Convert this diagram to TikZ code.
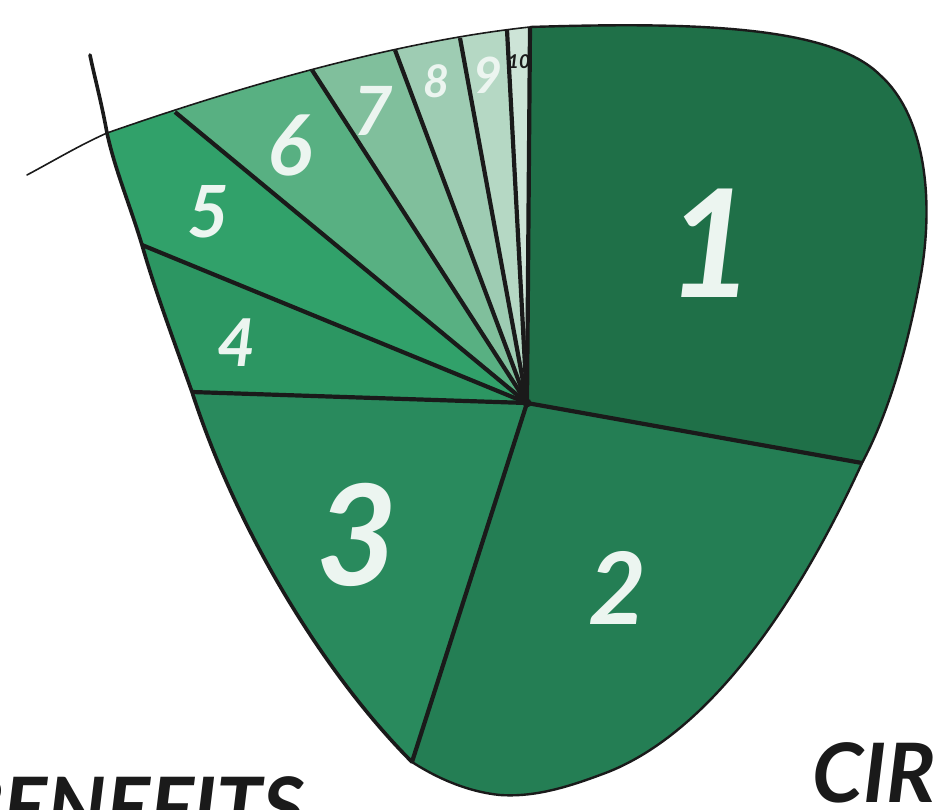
\documentclass[tikz,border=0pt]{standalone}
\usepackage{fontspec}
\newfontfamily\brushfont{Lato}
\definecolor{leafone}{RGB}{31,112,72}
\definecolor{leaftwo}{RGB}{36,126,84}
\definecolor{leafthree}{RGB}{41,138,93}
\definecolor{leaffour}{RGB}{44,150,98}
\definecolor{leaffive}{RGB}{49,161,106}
\definecolor{leafsix}{RGB}{88,176,130}
\definecolor{leafseven}{RGB}{128,191,156}
\definecolor{leafeight}{RGB}{158,204,179}
\definecolor{leafnine}{RGB}{181,216,196}
\definecolor{leafteen}{RGB}{205,228,215}
\definecolor{inkblack}{RGB}{26,26,26}
\definecolor{chalk}{RGB}{236,245,240}
\usetikzlibrary{calc}

\begin{document}
\begin{tikzpicture}[x=1pt,y=-1pt,
    spoke/.style={line width=4.2pt,inkblack},
    digit/.style={inner sep=0pt,text=chalk,font=\brushfont\bfseries\itshape\fontsize{#1}{#1}\selectfont},
    headline/.style={inner sep=0pt,text=inkblack,font=\brushfont\bfseries\itshape\fontsize{82}{82}\selectfont}]
  \useasboundingbox (0,0) rectangle (934,809);
  % centre and the rim ends of the spokes
  \coordinate (c) at (527,403);
  \coordinate (s1) at (862,463);
  \coordinate (s2) at (412,762);
  \coordinate (s3) at (192,392);
  \coordinate (s4) at (142,245);
  \coordinate (s5) at (175,112);
  \coordinate (s6) at (312,70);
  \coordinate (s7) at (395,50);
  \coordinate (s8) at (460,38);
  \coordinate (s9) at (507,30);
  \coordinate (s10) at (530,27);
  % wedges
  \begin{scope}
    \clip (107,133) .. controls (230,90) and (390,42) .. (530,27)
      .. controls (690,22) and (830,25) .. (880,75)
      .. controls (925,115) and (935,200) .. (920,280)
      .. controls (905,360) and (885,420) .. (862,463)
      .. controls (790,620) and (700,740) .. (600,775)
      .. controls (560,790) and (530,797) .. (500,795)
      .. controls (470,792) and (440,780) .. (412,762)
      .. controls (330,680) and (240,540) .. (192,392)
      .. controls (170,330) and (155,290) .. (142,245)
      .. controls (130,205) and (115,170) .. (107,133) -- cycle;
    \fill[leafone] (c) -- ($(c)!3!(s10)$) -- ($(c)!3!(s1)$) -- cycle;
    \fill[leaftwo] (c) -- ($(c)!3!(s1)$) -- ($(c)!3!(s2)$) -- cycle;
    \fill[leafthree] (c) -- ($(c)!3!(s2)$) -- ($(c)!3!(s3)$) -- cycle;
    \fill[leaffour] (c) -- ($(c)!3!(s3)$) -- ($(c)!3!(s4)$) -- cycle;
    \fill[leaffive] (c) -- ($(c)!3!(s4)$) -- ($(c)!3!(s5)$) -- cycle;
    \fill[leafsix] (c) -- ($(c)!3!(s5)$) -- ($(c)!3!(s6)$) -- cycle;
    \fill[leafseven] (c) -- ($(c)!3!(s6)$) -- ($(c)!3!(s7)$) -- cycle;
    \fill[leafeight] (c) -- ($(c)!3!(s7)$) -- ($(c)!3!(s8)$) -- cycle;
    \fill[leafnine] (c) -- ($(c)!3!(s8)$) -- ($(c)!3!(s9)$) -- cycle;
    \fill[leafteen] (c) -- ($(c)!3!(s9)$) -- ($(c)!3!(s10)$) -- cycle;
  \end{scope}
  % spokes
  \draw[spoke] (c) -- (s1);
  \draw[spoke] (c) -- (s2);
  \draw[spoke] (c) -- (s3);
  \draw[spoke] (c) -- (s4);
  \draw[spoke] (c) -- (s5);
  \draw[spoke] (c) -- (s6);
  \draw[spoke] (c) -- (s7);
  \draw[spoke] (c) -- (s8);
  \draw[spoke] (c) -- (s9);
  \draw[spoke] (c) -- (s10);
  \fill[inkblack] (c) circle (4.5pt);
  % rim
  \draw[line width=1.6pt,inkblack,line cap=round] (27,175) .. controls (55,160) and (80,145) .. (107,133)
    .. controls (230,90) and (390,42) .. (530,27);
  \draw[line width=2.4pt,inkblack,line join=round] (530,27)
    .. controls (690,22) and (830,25) .. (880,75)
    .. controls (925,115) and (935,200) .. (920,280)
    .. controls (905,360) and (885,420) .. (862,463)
    .. controls (790,620) and (700,740) .. (600,775)
    .. controls (560,790) and (530,797) .. (500,795)
    .. controls (470,792) and (440,780) .. (412,762);
  \draw[line width=3.6pt,inkblack,line cap=round,line join=round] (412,762)
    .. controls (330,680) and (240,540) .. (192,392)
    .. controls (170,330) and (155,290) .. (142,245)
    .. controls (130,205) and (115,170) .. (107,133)
    .. controls (101,100) and (94,75) .. (90,55);
  % numbers
  \node[digit=150] (n1) at (711,243) {1};
  \node[digit=100] (n2) at (617,588) {2};
  \node[digit=140] (n3) at (357,535) {3};
  \node[digit=66] (n4) at (237,343) {4};
  \node[digit=72] (n5) at (208,212) {5};
  \node[digit=84] (n6) at (290,145) {6};
  \node[digit=68] (n7) at (373,111) {7};
  \node[digit=45] (n8) at (437,81) {8};
  \node[digit=50] (n9) at (488,75) {9};
  \node[digit=19,text=inkblack] (n10) at (519,62) {10};
  % cut-off headings
  \node[headline,anchor=base east] (benefits) at (305,836) {BENEFITS};
  \node[headline,anchor=base west] (circular) at (812,802) {CIRCULAR};
\end{tikzpicture}
\end{document}
